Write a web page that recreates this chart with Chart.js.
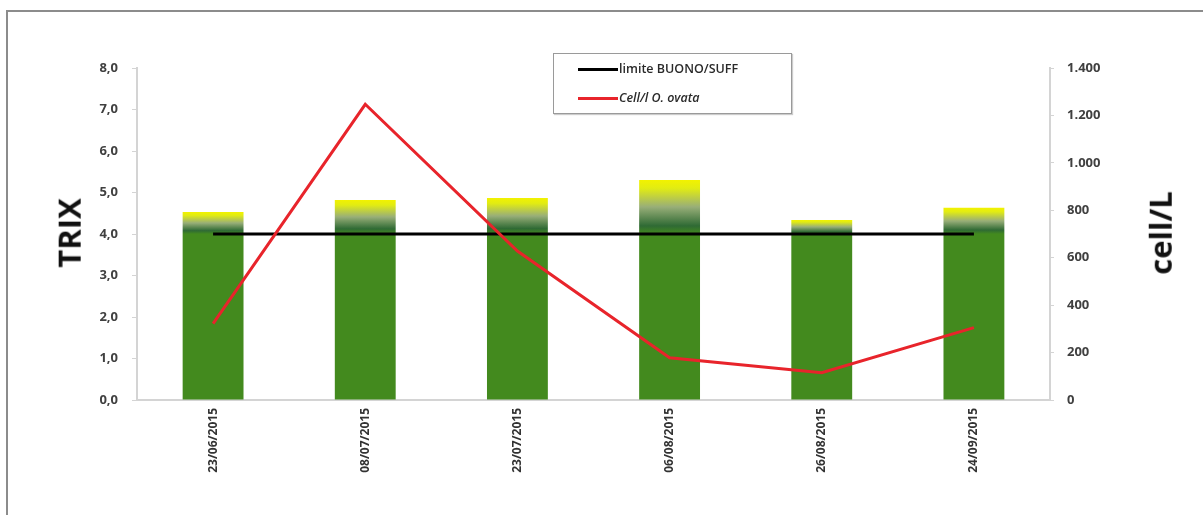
<!DOCTYPE html>
<html>
<head>
<meta charset="utf-8">
<script src="https://cdn.jsdelivr.net/npm/chart.js@4/dist/chart.umd.min.js"></script>
<style>
  html, body { margin: 0; padding: 0; background: #fff; }
  #wrap { position: relative; width: 1203px; height: 515px; overflow: hidden; font-family: "Open Sans", sans-serif; }
  #frame { position: absolute; left: 6px; top: 10px; width: 1300px; height: 600px; border-left: 2px solid #8c8c8c; border-top: 2px solid #8c8c8c; }
  #chartCanvas { position: absolute; left: 0; top: 0; }
  .axisTitle { position: absolute; font-family: "Open Sans", sans-serif; font-weight: 700; font-size: 31px; color: #111; transform: rotate(-90deg); transform-origin: center center; white-space: nowrap; }
  #legendBox { position: absolute; left: 553px; top: 53px; width: 237px; height: 59px; border: 1px solid #9a9a9a; background: #fff; box-shadow: 1px 1px 1px #ccc; }
  .legItem { position: absolute; left: 24px; font-size: 12.5px; font-weight: 600; color: #2a2a2a; white-space: nowrap; }
  .legItem span.ln { display: inline-block; width: 40px; height: 3px; vertical-align: middle; margin-right: 1px; }
</style>
</head>
<body>
<div id="wrap">
  <div id="frame"></div>
  <canvas id="chartCanvas" width="1203" height="515"></canvas>
  <div class="axisTitle" id="titleLeft">TRIX</div>
  <div class="axisTitle" id="titleRight">cell/L</div>
  <div id="legendBox">
    <div class="legItem" style="top:6px;"><span class="ln" style="background:#000;"></span>limite BUONO/SUFF</div>
    <div class="legItem" style="top:35px;"><span class="ln" style="background:#e8242b;"></span><i>Cell/l O. ovata</i></div>
  </div>
</div>
<script>
// dates of sampling
const dates = ["23/06/2015", "08/07/2015", "23/07/2015", "06/08/2015", "26/08/2015", "24/09/2015"];
// TRIX index per date
const trixValues = [4.53, 4.82, 4.87, 5.30, 4.34, 4.63];
// limit good/sufficient
const limitValues = [4.0, 4.0, 4.0, 4.0, 4.0, 4.0];
// O. ovata cells per litre
const ovataValues = [322, 1247, 628, 178, 115, 305];

// place the rotated axis titles
function placeTitle(id, cx, cy) {
    const el = document.getElementById(id);
    el.style.left = (cx - el.offsetWidth / 2) + "px";
    el.style.top = (cy - el.offsetHeight / 2) + "px";
}
placeTitle("titleLeft", 68, 233);
placeTitle("titleRight", 1160, 233);

function barGradient(context) {
    const chart = context.chart;
    const area = chart.chartArea;
    if (!area) return '#438a1e';
    const yScale = chart.scales.y;
    const v = context.raw;
    const top = yScale.getPixelForValue(v);
    const low = yScale.getPixelForValue(4.0);
    if (low - top < 2) return '#438a1e';
    const g = chart.ctx.createLinearGradient(0, top, 0, low);
    g.addColorStop(0, '#f2f200');
    g.addColorStop(0.15, '#e2ec12');
    g.addColorStop(0.5, '#98ae78');
    g.addColorStop(0.85, '#2f6a34');
    g.addColorStop(1, '#438a1e');
    return g;
}

const tickFont = { family: "Open Sans", size: 13, weight: "bold" };

const ctx = document.getElementById('chartCanvas').getContext('2d');
const chart = new Chart(ctx, {
    type: 'bar',
    data: {
        labels: dates,
        datasets: [
            {
                type: 'line',
                label: 'Cell/l O. ovata',
                data: ovataValues,
                yAxisID: 'y1',
                borderColor: '#e8242b',
                borderWidth: 3,
                pointRadius: 0,
                tension: 0,
                order: 1
            },
            {
                type: 'line',
                label: 'limite BUONO/SUFF',
                data: limitValues,
                yAxisID: 'y',
                borderColor: '#000000',
                borderWidth: 3,
                pointRadius: 0,
                tension: 0,
                order: 2
            },
            {
                type: 'bar',
                label: 'TRIX',
                data: trixValues,
                yAxisID: 'y',
                backgroundColor: barGradient,
                borderWidth: 0,
                barPercentage: 0.4,
                categoryPercentage: 1.0,
                order: 3
            }
        ]
    },
    options: {
        responsive: false,
        animation: false,
        layout: { padding: { top: 68, left: 0, right: 0, bottom: 0 } },
        plugins: {
            legend: { display: false },
            tooltip: { enabled: false }
        },
        scales: {
            x: {
                grid: { display: true, drawOnChartArea: false, drawTicks: false },
                border: { color: '#d4d4d4', width: 2 },
                ticks: { font: { family: "Open Sans", size: 12, weight: "bold" }, color: '#333', maxRotation: 90, minRotation: 90, padding: 8 },
                afterFit: function(scale) { scale.height = 115; }
            },
            y: {
                position: 'left',
                min: 0,
                max: 8,
                grid: { drawOnChartArea: false, tickLength: 5, color: '#d4d4d4' },
                border: { color: '#d4d4d4', width: 2 },
                ticks: {
                    stepSize: 1,
                    font: tickFont,
                    color: '#404040',
                    padding: 14,
                    callback: function(v) { return v.toFixed(1).replace('.', ','); }
                },
                afterFit: function(scale) { scale.width = 137; }
            },
            y1: {
                position: 'right',
                min: 0,
                max: 1400,
                grid: { drawOnChartArea: false, tickLength: 4, color: '#d4d4d4' },
                border: { color: '#d4d4d4', width: 2 },
                ticks: {
                    stepSize: 200,
                    font: tickFont,
                    color: '#404040',
                    padding: 13,
                    callback: function(v) { return v >= 1000 ? Math.floor(v / 1000) + '.' + String(v % 1000).padStart(3, '0') : String(v); }
                },
                afterFit: function(scale) { scale.width = 153; }
            }
        }
    }
});
</script>
</body>
</html>
